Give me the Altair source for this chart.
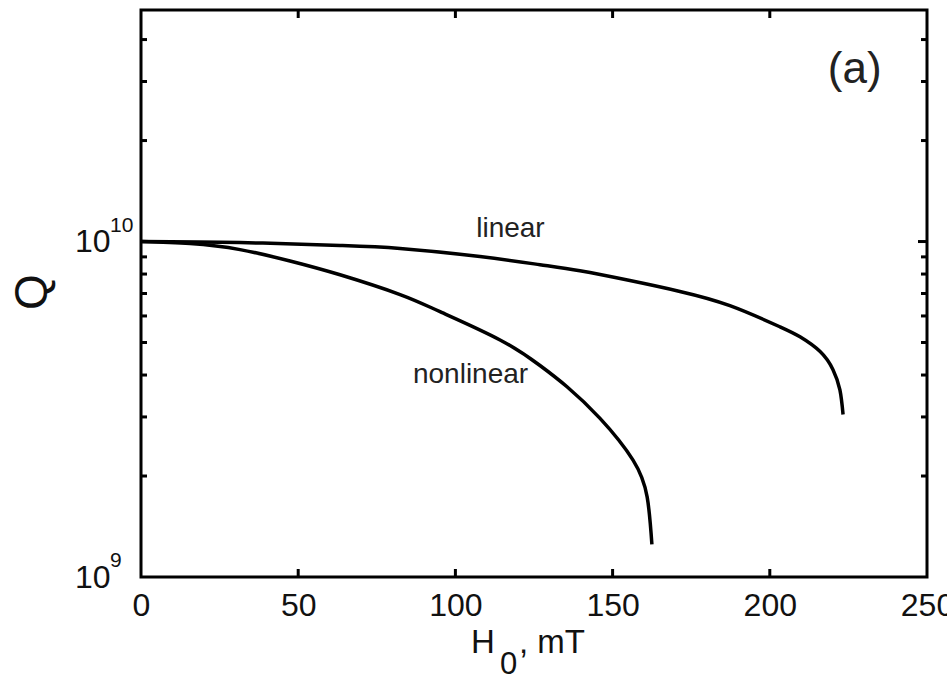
import altair as alt
import pandas as pd

# ---- data ----
linear_h = [0, 31.5, 63.3, 82.4, 107.8, 126.9, 139.6, 155.5, 171.4, 187.3, 203.2, 209.6, 216.0, 220.1, 222.3, 223.3]
linear_q = [1.0e10, 9.93e9, 9.73e9, 9.53e9, 9.02e9, 8.53e9, 8.18e9, 7.65e9, 7.10e9, 6.44e9, 5.57e9, 5.20e9, 4.70e9, 4.15e9, 3.61e9, 3.05e9]

nonlinear_h = [0, 15.6, 31.5, 47.4, 63.3, 82.4, 95.1, 114.2, 126.9, 135.5, 146.0, 156.5, 161.0, 162.5]
nonlinear_q = [1.0e10, 9.86e9, 9.46e9, 8.75e9, 7.96e9, 6.95e9, 6.18e9, 5.09e9, 4.27e9, 3.69e9, 2.97e9, 2.23e9, 1.73e9, 1.25e9]

x_ticks = [0, 50, 100, 150, 200, 250]
x_inner_ticks = [50, 100, 150, 200]
y_major = [1e9, 1e10]
y_exponents = ["9", "10"]
y_minor = [2e9, 3e9, 4e9, 5e9, 6e9, 7e9, 8e9, 9e9, 2e10, 3e10, 4e10]
y_major_inner = [1e10]

curve_labels = ["linear", "nonlinear"]
curve_label_h = [117.5, 86.5]
curve_label_q = [1.035e10, 3.79e9]
curve_label_align = ["center", "left"]

panel_label = ["(a)"]
panel_label_h = [227]
panel_label_q = [2.97e10]

W, H = 786, 567
FONT = "Liberation Sans"

curves = pd.DataFrame({
    "H": linear_h + nonlinear_h,
    "Q": linear_q + nonlinear_q,
    "series": ["linear"] * len(linear_h) + ["nonlinear"] * len(nonlinear_h),
})

xs = alt.Scale(domain=[0, 250], nice=False, zero=False)
ys = alt.Scale(type="log", domain=[1e9, 4.9e10], nice=False)

x_axis = alt.Axis(
    values=x_ticks, ticks=False, domain=False, grid=False, title=None,
    labelFont=FONT, labelFontSize=32, labelColor="#111", labelPadding=13,
    labelFlush=False, labelOverlap=False)
y_axis = alt.Axis(
    values=y_major, ticks=False, domain=False, grid=False, title=None,
    labelFont=FONT, labelFontSize=32, labelColor="#111", labelPadding=31,
    labelExpr="'10'", labelOverlap=False)


def X(field):
    return alt.X(field, scale=xs, axis=x_axis)


def Y(field):
    return alt.Y(field, scale=ys, axis=y_axis)


lines = alt.Chart(curves).mark_line(
    color="black", strokeWidth=3.5, interpolate="natural"
).encode(x=X("H:Q"), y=Y("Q:Q"), detail="series:N")


def rules_x(vals, y1, y2):
    return alt.Chart(pd.DataFrame({"v": vals})).mark_rule(color="black", strokeWidth=3).encode(
        x=X("v:Q"), y=alt.value(y1), y2=alt.value(y2))


def rules_y(vals, x1, x2):
    return alt.Chart(pd.DataFrame({"v": vals})).mark_rule(color="black", strokeWidth=3).encode(
        y=Y("v:Q"), x=alt.value(x1), x2=alt.value(x2))


ticks = [
    rules_x(x_inner_ticks, H, H - 8),
    rules_x(x_inner_ticks, 0, 8),
    rules_y(y_minor, 0, 6),
    rules_y(y_minor, W, W - 6),
    rules_y(y_major_inner, 0, 9),
    rules_y(y_major_inner, W, W - 9),
]

# superscript exponents of the y tick labels
sup = alt.Chart(pd.DataFrame({"v": y_major, "e": y_exponents})).mark_text(
    font=FONT, fontSize=21, color="#111", align="left", baseline="alphabetic", dy=-10
).encode(y=Y("v:Q"), x=alt.value(-31), text="e:N")

lab_df = pd.DataFrame({"t": curve_labels, "h": curve_label_h, "q": curve_label_q, "al": curve_label_align})
lab_center = alt.Chart(lab_df).transform_filter("datum.al == 'center'").mark_text(
    font=FONT, fontSize=28, color="#222", align="center", baseline="alphabetic"
).encode(x=X("h:Q"), y=Y("q:Q"), text="t:N")
lab_left = alt.Chart(lab_df).transform_filter("datum.al == 'left'").mark_text(
    font=FONT, fontSize=28, color="#222", align="left", baseline="alphabetic"
).encode(x=X("h:Q"), y=Y("q:Q"), text="t:N")

panel = alt.Chart(pd.DataFrame({"t": panel_label, "h": panel_label_h, "q": panel_label_q})).mark_text(
    font=FONT, fontSize=44, color="#222", align="center", baseline="alphabetic"
).encode(x=X("h:Q"), y=Y("q:Q"), text="t:N")


def title_text(txt, x, y, size, angle=0, align="left", baseline="alphabetic"):
    kw = dict(font=FONT, fontSize=size, color="#111", align=align, baseline=baseline)
    if angle:
        kw["angle"] = angle
    return alt.Chart(pd.DataFrame({"t": [txt]})).mark_text(**kw).encode(
        text="t:N", x=alt.value(x), y=alt.value(y))


titles = [
    title_text("H", 330, 643, 33),
    title_text("0", 359, 664, 31),
    title_text(", mT", 378, 643, 33),
    title_text("Q", -94, 282, 46, angle=270, align="center"),
]

chart = alt.layer(lines, *ticks, sup, lab_center, lab_left, panel, *titles).properties(
    width=W, height=H,
    padding={"left": 141, "top": 10, "right": 20, "bottom": 100},
    autosize=alt.AutoSizeParams(type="none"),
    background="white",
).configure_view(stroke="black", strokeWidth=3)

chart.save("out.html", embed_options={"renderer": "svg", "actions": False})
